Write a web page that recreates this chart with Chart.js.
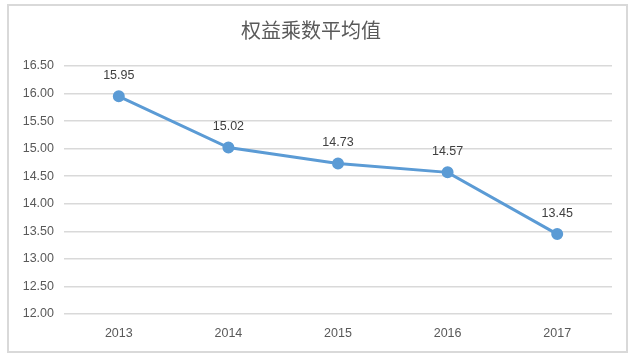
<!DOCTYPE html>
<html>
<head>
<meta charset="utf-8">
<script src="https://cdn.jsdelivr.net/npm/chart.js@4/dist/chart.umd.min.js"></script>
<style>
  html, body { margin: 0; padding: 0; background: #fff; }
  #wrap { position: relative; width: 634px; height: 357px; }
</style>
</head>
<body>
<div id="wrap"><canvas id="c" width="634" height="357"></canvas></div>
<script>
const titleText = '权益乘数平均值';
const categories = ['2013', '2014', '2015', '2016', '2017'];
const values = [15.95, 15.02, 14.73, 14.57, 13.45];
const yMin = 12.0;
const yMax = 16.5;
const yStep = 0.5;

const FONT = '"Liberation Sans", "DejaVu Sans", sans-serif';
const CJK = '"Noto Sans CJK SC", "Noto Sans", sans-serif';
const lineColor = '#5B9BD5';

const framePlugin = {
  id: 'frame',
  beforeDraw(chart) {
    const ctx = chart.ctx;
    ctx.save();
    ctx.fillStyle = '#ffffff';
    ctx.fillRect(0, 0, chart.width, chart.height);
    ctx.strokeStyle = '#d9d9d9';
    ctx.lineWidth = 2;
    ctx.strokeRect(8, 5, 619, 347);
    ctx.restore();
  }
};

const labelPlugin = {
  id: 'pointLabels',
  afterDatasetsDraw(chart) {
    const ctx = chart.ctx;
    const meta = chart.getDatasetMeta(0);
    ctx.save();
    ctx.fillStyle = '#404040';
    ctx.font = '12.5px ' + FONT;
    ctx.textAlign = 'center';
    ctx.textBaseline = 'middle';
    meta.data.forEach((pt, i) => {
      ctx.fillText(values[i].toFixed(2), pt.x, pt.y - 21);
    });
    ctx.restore();
  }
};

new Chart(document.getElementById('c'), {
  type: 'line',
  data: {
    labels: categories,
    datasets: [{
      data: values,
      borderColor: lineColor,
      backgroundColor: lineColor,
      borderWidth: 3,
      pointRadius: 4.5,
      pointHoverRadius: 4.5,
      pointBackgroundColor: lineColor,
      pointBorderColor: lineColor,
      tension: 0,
      fill: false
    }]
  },
  options: {
    responsive: false,
    animation: false,
    events: [],
    layout: { padding: { top: 6, left: 10, right: 22, bottom: 4 } },
    plugins: {
      legend: { display: false },
      tooltip: { enabled: false },
      title: {
        display: true,
        text: titleText,
        color: '#595959',
        font: { family: CJK, size: 20, weight: 'normal' },
        padding: { top: 12, bottom: 24 }
      }
    },
    scales: {
      x: {
        offset: true,
        grid: { display: false, drawTicks: false },
        border: { display: false },
        ticks: { color: '#595959', font: { family: FONT, size: 12.5 }, padding: 12 }
      },
      y: {
        min: yMin,
        max: yMax,
        afterFit(s) { s.width = 54; },
        grid: { color: '#d9d9d9', lineWidth: 1.5, drawTicks: false },
        border: { display: false },
        ticks: {
          stepSize: yStep,
          color: '#595959',
          font: { family: FONT, size: 12.5 },
          padding: 10,
          callback: v => Number(v).toFixed(2)
        }
      }
    }
  },
  plugins: [framePlugin, labelPlugin]
});
</script>
</body>
</html>
